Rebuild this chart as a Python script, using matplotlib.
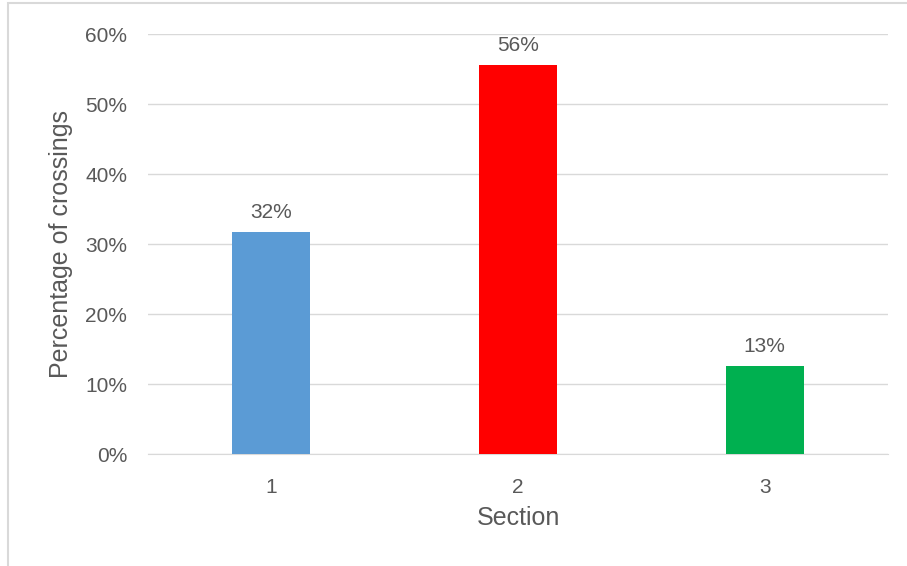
import matplotlib.pyplot as plt
from matplotlib.patches import Rectangle
from matplotlib.ticker import PercentFormatter

# ---- DATA ----
sections = ["1", "2", "3"]
shares = [0.317, 0.556, 0.126]
labels = ["32%", "56%", "13%"]
bar_colors = ["#5B9BD5", "#FF0000", "#00B050"]
yticks = [0, 0.1, 0.2, 0.3, 0.4, 0.5, 0.6]

TEXT = "#595959"
GRID = "#D9D9D9"

plt.rcParams["font.family"] = ["Liberation Sans", "DejaVu Sans"]

fig = plt.figure(figsize=(9.07, 5.66), dpi=100)
ax = fig.add_axes([148 / 907, 112 / 566, 740 / 907, 420 / 566])

x = range(len(sections))
bars = ax.bar(x, shares, width=0.316, color=bar_colors, zorder=3)

for b, lab in zip(bars, labels):
    ax.annotate(lab, (b.get_x() + b.get_width() / 2, b.get_height()),
                xytext=(0, 7), textcoords="offset points",
                ha="center", va="bottom", fontsize=15, color=TEXT)

ax.set_xlim(-0.5, 2.5)
ax.set_ylim(0, 0.6)
ax.set_yticks(yticks)
ax.yaxis.set_major_formatter(PercentFormatter(1.0, decimals=0))
ax.set_xticks(list(x))
ax.set_xticklabels(sections)
ax.tick_params(length=0, labelsize=15, labelcolor=TEXT)
ax.tick_params(axis="y", pad=15)
ax.tick_params(axis="x", pad=17)

ax.grid(axis="y", color=GRID, linewidth=1, zorder=0)
for s in ["top", "right", "left"]:
    ax.spines[s].set_visible(False)
ax.spines["bottom"].set_color(GRID)

ax.set_xlabel("Section", fontsize=18, color=TEXT, labelpad=7)
ax.set_ylabel("Percentage of crossings", fontsize=18, color=TEXT, labelpad=9)

# light frame around the chart area
fig.patches.append(Rectangle((8 / 907, -0.05), 1.0, 1.05 - 3 / 566,
                             transform=fig.transFigure, fill=False,
                             edgecolor=GRID, linewidth=1.5))

fig.savefig("out.png", dpi=100)
